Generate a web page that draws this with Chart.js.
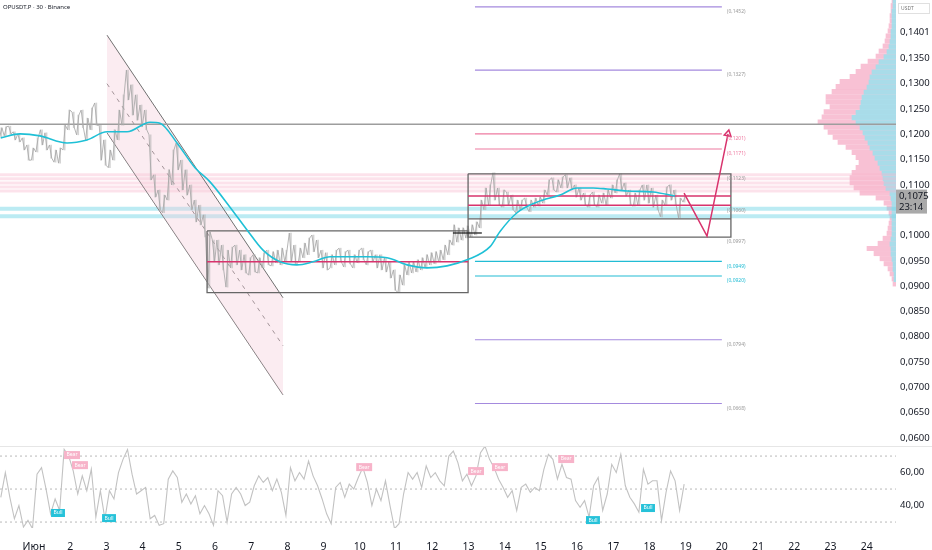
<!DOCTYPE html>
<html>
<head>
<meta charset="utf-8">
<script src="https://cdn.jsdelivr.net/npm/chart.js@4.4.1/dist/chart.umd.min.js"></script>
<style>
html, body { margin: 0; padding: 0; background: #fff; overflow: hidden; }
#wrap { width: 932px; height: 550px; position: relative; }
</style>
</head>
<body>
<div id="wrap"><canvas id="chart"></canvas></div>
<script>
// time axis in days (1 = 1 June), 30m chart resampled to 3h bars
const barStart = 0.0833;
const barStep = 0.125;
const xMin = 0.0608, xMax = 24.81;
const dayTicks = [1,2,3,4,5,6,7,8,9,10,11,12,13,14,15,16,17,18,19,20,21,22,23,24];
const priceTicks = [0.06,0.065,0.07,0.075,0.08,0.085,0.09,0.095,0.10,0.11,0.115,0.12,0.125,0.13,0.135,0.1401];
const rsiTicks = [40, 60];
const rsiLevels = [70, 50, 30];

const priceHigh = [
  0.1213,0.1215,0.1216,0.1205,0.1201,0.1193,0.1179,0.1173,
  0.1193,0.1209,0.1203,0.1179,0.1169,0.1173,0.1218,0.1248,
  0.1244,0.1238,0.1248,0.1232,0.1252,0.1262,0.1218,0.1189,
  0.1169,0.1209,0.1248,0.1278,0.1327,0.1298,0.1278,0.1258,
  0.1248,0.1199,0.1120,0.1090,0.1080,0.1130,0.1169,0.1183,
  0.1149,0.1130,0.1100,0.1070,0.1060,0.1041,0.1007,0.0991,
  0.0991,0.0981,0.0971,0.0977,0.0981,0.0971,0.0962,0.0956,
  0.0962,0.0956,0.0966,0.0971,0.0968,0.0971,0.0975,0.0971,
  0.1005,0.0981,0.0975,0.0985,0.0995,0.1001,0.0991,0.0971,
  0.0966,0.0962,0.0971,0.0975,0.0968,0.0971,0.0962,0.0971,
  0.0975,0.0968,0.0971,0.0962,0.0962,0.0956,0.0948,0.0932,
  0.0922,0.0942,0.0948,0.0948,0.0952,0.0956,0.0962,0.0966,
  0.0968,0.0971,0.0981,0.0991,0.1021,0.1015,0.1015,0.1019,
  0.1021,0.1027,0.1070,0.1094,0.1100,0.1124,0.1094,0.1090,
  0.1086,0.1080,0.1070,0.1070,0.1074,0.1070,0.1074,0.1076,
  0.1090,0.1110,0.1114,0.1110,0.1116,0.1120,0.1114,0.1100,
  0.1094,0.1084,0.1080,0.1086,0.1080,0.1084,0.1090,0.1100,
  0.1110,0.1122,0.1104,0.1090,0.1084,0.1090,0.1100,0.1100,
  0.1094,0.1080,0.1070,0.1096,0.1100,0.1090,0.1074,0.1078
];
const priceLow = [
  0.1195,0.1197,0.1201,0.1189,0.1185,0.1169,0.1149,0.1149,
  0.1165,0.1179,0.1169,0.1153,0.1145,0.1143,0.1169,0.1209,
  0.1213,0.1199,0.1213,0.1189,0.1209,0.1218,0.1149,0.1139,
  0.1134,0.1149,0.1189,0.1218,0.1268,0.1238,0.1228,0.1215,
  0.1209,0.1110,0.1076,0.1051,0.1045,0.1070,0.1100,0.1130,
  0.1090,0.1080,0.1051,0.1027,0.1021,0.0997,0.0896,0.0948,
  0.0942,0.0932,0.0898,0.0936,0.0942,0.0932,0.0926,0.0922,
  0.0928,0.0926,0.0936,0.0942,0.0940,0.0946,0.0942,0.0948,
  0.0948,0.0942,0.0948,0.0956,0.0962,0.0968,0.0956,0.0936,
  0.0932,0.0936,0.0942,0.0948,0.0938,0.0944,0.0936,0.0946,
  0.0952,0.0942,0.0948,0.0936,0.0932,0.0928,0.0916,0.0892,
  0.0887,0.0902,0.0922,0.0926,0.0928,0.0932,0.0936,0.0942,
  0.0944,0.0948,0.0952,0.0962,0.0981,0.0987,0.0991,0.0995,
  0.0997,0.1001,0.1015,0.1051,0.1060,0.1070,0.1060,0.1056,
  0.1060,0.1051,0.1045,0.1051,0.1055,0.1047,0.1056,0.1058,
  0.1064,0.1080,0.1090,0.1086,0.1094,0.1094,0.1090,0.1076,
  0.1070,0.1060,0.1056,0.1060,0.1056,0.1064,0.1060,0.1074,
  0.1084,0.1090,0.1078,0.1060,0.1058,0.1060,0.1070,0.1064,
  0.1056,0.1051,0.1037,0.1060,0.1070,0.1060,0.1035,0.1066
];
const rsiVals = [
  45,60,45,32,40,27,31,26,
  59,63,50,35,44,37,74,70,
  61,47,58,49,62,33,49,32,
  49,44,60,68,74,59,47,49,
  51,32,34,28,29,56,61,57,
  42,47,41,46,35,40,35,28,
  49,46,30,47,51,47,40,42,
  52,58,54,57,49,56,48,34,
  63,55,60,56,67,58,52,44,
  35,29,51,54,45,53,50,57,
  63,54,40,50,43,55,40,26,
  29,47,60,56,60,51,64,57,
  60,55,52,70,73,66,55,59,
  52,58,72,76,68,63,56,51,
  45,49,37,51,53,48,51,49,
  62,71,68,56,65,57,56,43,
  39,43,33,52,57,37,47,65,
  60,71,52,45,41,36,62,53,
  55,55,31,48,61,55,37,53
];

// moving average (cyan)
const maDays = [0.08,0.613,1.166,1.912,2.464,3.017,3.569,4.204,4.481,4.95,5.448,5.862,6.414,6.884,7.326,7.796,8.265,8.707,9.177,9.646,10.199,10.751,11.304,11.856,12.409,12.961,13.597,13.873,14.343,14.895,15.53,16.0,16.442,16.829,17.381,18.099,18.707];
const maVals = [0.1193,0.1201,0.1197,0.1183,0.1189,0.1205,0.1205,0.1224,0.1222,0.1183,0.1134,0.1106,0.1056,0.1011,0.0971,0.0948,0.0942,0.0948,0.0958,0.0958,0.0958,0.0956,0.0942,0.0936,0.0940,0.0952,0.0978,0.1008,0.1045,0.1066,0.1080,0.1094,0.1094,0.1092,0.1088,0.1086,0.1078];

// volume profile (right side)
const vpPrice = [0.146,0.145,0.144,0.143,0.142,0.141,0.140,0.139,0.138,0.137,0.136,0.135,0.134,0.133,0.132,0.131,0.130,0.129,0.128,0.127,0.126,0.125,0.124,0.123,0.122,0.121,0.120,0.119,0.118,0.117,0.116,0.115,0.114,0.113,0.112,0.111,0.110,0.109,0.108,0.107,0.106,0.105,0.104,0.103,0.102,0.101,0.100,0.099,0.098,0.097,0.096,0.095,0.094,0.093,0.092,0.091,0.090];
const vpTotal = [40,50,50,60,60,70,80,100,110,130,170,200,280,350,400,460,560,600,640,700,700,660,720,740,780,720,680,630,580,500,440,400,370,400,440,460,460,420,360,200,120,90,70,60,70,80,90,130,180,290,220,160,120,80,60,40,30];
const vpBuy = [30,30,30,40,40,40,40,50,50,60,70,90,120,170,200,240,260,270,290,320,340,350,360,400,440,400,360,330,310,280,260,230,210,180,160,140,130,120,100,60,50,40,40,40,40,40,40,40,50,60,50,50,40,30,30,20,20];

// drawings
const keyLevel = 0.1220;
const pinkZones = [0.1120, 0.1112, 0.1104, 0.1096, 0.1088];
const cyanZones = [0.1053, 0.1038];
const chanDays = [3.017, 7.878];
const chanUpper = [0.1396, 0.0877];
const chanMid = [0.1300, 0.0782];
const chanLower = [0.1203, 0.0685];
const boxADays = [5.78, 12.99];
const boxAPrices = [0.1009, 0.0887];
const boxBDays = [12.99, 20.25];
const boxBPrices = [0.1122, 0.0997];
const boxBInner = 0.1033;
const redLevelsA = [0.0948];
const redLevelsB = [0.1078, 0.1060];
const shortDays = [12.57, 13.37];
const shortLevel = 0.1005;
const fibDays = [13.18, 20.0];
const fibLevels = [0.1452, 0.1327, 0.1201, 0.1171, 0.0949, 0.0920, 0.0794, 0.0668];
const fibKinds = ['p', 'p', 'r', 'r', 'c', 'c', 'p', 'p'];
const labelDay = 20.14;
const labelPrices = [0.1452, 0.1327, 0.1201, 0.1171, 0.1123, 0.1060, 0.0997, 0.0949, 0.0920, 0.0794, 0.0668];
const labelKinds = ['g', 'g', 'r', 'r', 'g', 'g', 'g', 'c', 'c', 'g', 'g'];
const arrowDays = [18.956, 19.59, 20.17];
const arrowPrices = [0.1084, 0.0999, 0.1201];
const bullDays = [1.663, 3.072, 16.44, 17.96];
const bullRsi = [35.5, 32.4, 31.2, 38.5];
const bearDays = [2.05, 2.27, 10.12, 13.21, 13.87, 15.70];
const bearRsi = [70.6, 64.5, 63.3, 60.9, 63.3, 68.2];
const lastPrice = 0.1075;
const countdown = '23:14';

const FONT = '"Noto Sans", "DejaVu Sans", sans-serif';
const fmt = (v, n) => v.toFixed(n).replace('.', ',');
const barDays = priceHigh.map((_, i) => barStart + i * barStep);

// path through each bar's low and high, in the order the price moved
const pricePath = [];
priceHigh.forEach((hi, i) => {
  const lo = priceLow[i];
  const next = i < priceHigh.length - 1 ? priceHigh[i + 1] + priceLow[i + 1] : hi + lo;
  const up = next >= hi + lo;
  pricePath.push({ x: barDays[i] - barStep / 4, y: up ? lo : hi });
  pricePath.push({ x: barDays[i] + barStep / 4, y: up ? hi : lo });
});

const datasets = [];
function seg(d0, d1, p, color, width, order, extra) {
  datasets.push(Object.assign({
    type: 'line', yAxisID: 'y',
    data: [{ x: d0, y: p }, { x: d1, y: p }],
    borderColor: color, borderWidth: width, pointRadius: 0, order: order
  }, extra || {}));
}
function box(days, prices, color, order) {
  datasets.push({
    type: 'line', yAxisID: 'y',
    data: [
      { x: days[0], y: prices[0] }, { x: days[1], y: prices[0] },
      { x: days[1], y: prices[1] }, { x: days[0], y: prices[1] },
      { x: days[0], y: prices[0] }
    ],
    borderColor: color, borderWidth: 1.3, pointRadius: 0, order: order
  });
}

// volume profile
datasets.push({
  type: 'bar', indexAxis: 'y', xAxisID: 'xv', yAxisID: 'y',
  data: vpPrice.map((p, i) => ({ x: [0, vpTotal[i]], y: p })),
  backgroundColor: 'rgba(246,172,198,0.75)', barThickness: 4.4, order: 100
});
datasets.push({
  type: 'bar', indexAxis: 'y', xAxisID: 'xv', yAxisID: 'y',
  data: vpPrice.map((p, i) => ({ x: [0, vpBuy[i]], y: p })),
  backgroundColor: 'rgba(155,226,237,0.85)', barThickness: 4.4, order: 99
});

// zones
pinkZones.forEach(p => seg(xMin, xMax, p, 'rgba(248,180,202,0.38)', 3, 90));
cyanZones.forEach(p => seg(xMin, xMax, p, 'rgba(120,215,232,0.5)', 4, 90));
seg(xMin, xMax, keyLevel, '#9d9d9d', 1.6, 85);

// channel
const lowerIdx = datasets.length + 1;
datasets.push({
  type: 'line', yAxisID: 'y',
  data: chanDays.map((d, i) => ({ x: d, y: chanUpper[i] })),
  borderColor: '#707070', borderWidth: 1, pointRadius: 0, order: 88,
  fill: lowerIdx, backgroundColor: 'rgba(244,205,217,0.38)'
});
datasets.push({
  type: 'line', yAxisID: 'y',
  data: chanDays.map((d, i) => ({ x: d, y: chanLower[i] })),
  borderColor: '#707070', borderWidth: 1, pointRadius: 0, order: 88
});
datasets.push({
  type: 'line', yAxisID: 'y',
  data: chanDays.map((d, i) => ({ x: d, y: chanMid[i] })),
  borderColor: '#707070', borderWidth: 1, borderDash: [4, 5], pointRadius: 0, order: 88
});

// price: thin high-low bars plus the path between them
datasets.push({
  type: 'bar', xAxisID: 'x', yAxisID: 'y',
  data: barDays.map((d, i) => ({ x: d, y: [priceLow[i], priceHigh[i]] })),
  backgroundColor: 'rgba(175,175,175,0.55)', barThickness: 1, order: 61
});
datasets.push({
  type: 'line', xAxisID: 'x', yAxisID: 'y',
  data: pricePath,
  borderColor: 'rgba(168,168,168,0.85)', borderWidth: 1, pointRadius: 0, order: 60
});

// boxes and levels
box(boxADays, boxAPrices, '#666', 50);
box(boxBDays, boxBPrices, '#666', 50);
seg(boxBDays[0], boxBDays[1], boxBInner, '#666', 1.3, 50);
redLevelsA.forEach(p => seg(boxADays[0], boxADays[1], p, '#d8336d', 1.5, 49));
redLevelsB.forEach(p => seg(boxBDays[0], boxBDays[1], p, '#d8336d', 1.5, 49));
seg(shortDays[0], shortDays[1], shortLevel, '#222', 1.3, 49);
const fibColor = { p: '#a48ade', r: '#ee7aa0', c: '#22bcd4' };
fibLevels.forEach((p, i) => seg(fibDays[0], fibDays[1], p, fibColor[fibKinds[i]], 1.2, 48));

// moving average
datasets.push({
  type: 'line', yAxisID: 'y',
  data: maDays.map((d, i) => ({ x: d, y: maVals[i] })),
  borderColor: '#1fc0d6', borderWidth: 1.6, pointRadius: 0,
  cubicInterpolationMode: 'monotone', order: 40
});

// projection arrow
datasets.push({
  type: 'line', yAxisID: 'y',
  data: arrowDays.map((d, i) => ({ x: d, y: arrowPrices[i] })),
  borderColor: '#d8336d', borderWidth: 1.5,
  pointRadius: [0, 0, 4], pointStyle: 'triangle', pointRotation: 12,
  pointBackgroundColor: 'rgba(0,0,0,0)', pointBorderColor: '#d8336d', pointBorderWidth: 1.5,
  order: 30
});

// RSI
rsiLevels.forEach(v => datasets.push({
  type: 'line', yAxisID: 'yR',
  data: [{ x: xMin, y: v }, { x: xMax, y: v }],
  borderColor: '#b8b8b8', borderWidth: 1, borderDash: [2, 3], pointRadius: 0, order: 20
}));
datasets.push({
  type: 'line', yAxisID: 'yR',
  data: barDays.map((d, i) => ({ x: d, y: rsiVals[i] })),
  borderColor: '#c2c2c2', borderWidth: 1.1, pointRadius: 0, order: 10
});

function tag(ctx, x, y, text, bg) {
  ctx.font = '5px ' + FONT;
  const w = ctx.measureText(text).width + 5;
  ctx.fillStyle = bg;
  ctx.fillRect(x - w / 2, y - 4, w, 8);
  ctx.fillStyle = '#fff';
  ctx.textAlign = 'center';
  ctx.textBaseline = 'middle';
  ctx.fillText(text, x, y);
}

const overlay = {
  id: 'overlay',
  afterDraw(chart) {
    const { ctx } = chart;
    const { x, y, yR } = chart.scales;
    ctx.save();
    // pane separator
    ctx.strokeStyle = '#e6e6e6';
    ctx.lineWidth = 1;
    ctx.beginPath();
    ctx.moveTo(0, yR.top + 0.5);
    ctx.lineTo(chart.width, yR.top + 0.5);
    ctx.stroke();

    // title
    ctx.font = '6px ' + FONT;
    ctx.fillStyle = '#131722';
    ctx.textAlign = 'left';
    ctx.textBaseline = 'middle';
    ctx.fillText('OPUSDT.P · 30 · Binance', 3, 7);

    // level labels
    const labelColor = { g: '#9a9a9a', r: '#ee7aa0', c: '#22bcd4' };
    ctx.font = '5px ' + FONT;
    labelPrices.forEach((p, i) => {
      ctx.fillStyle = labelColor[labelKinds[i]];
      ctx.fillText('(' + fmt(p, 4) + ')', x.getPixelForValue(labelDay), y.getPixelForValue(p) + 5);
    });

    // divergence tags
    bullDays.forEach((d, i) => tag(ctx, x.getPixelForValue(d), yR.getPixelForValue(bullRsi[i]), 'Bull', '#26c2d9'));
    bearDays.forEach((d, i) => tag(ctx, x.getPixelForValue(d), yR.getPixelForValue(bearRsi[i]), 'Bear', '#f7b3c9'));

    // currency box
    ctx.strokeStyle = '#e0e0e0';
    ctx.strokeRect(898.5, 3.5, 31, 10);
    ctx.font = '5px ' + FONT;
    ctx.fillStyle = '#777';
    ctx.textAlign = 'left';
    ctx.fillText('USDT', 901, 8.5);

    // last price box
    const py = y.getPixelForValue(lastPrice);
    ctx.fillStyle = '#a9a9a9';
    ctx.fillRect(y.left, py - 8, 31, 24);
    ctx.fillStyle = '#131722';
    ctx.font = '9.5px ' + FONT;
    ctx.fillText(fmt(lastPrice, 4), y.left + 3, py - 1);
    ctx.fillText(countdown, y.left + 3, py + 10);
    ctx.restore();
  }
};

const noPad = s => { s.paddingTop = 0; s.paddingBottom = 0; };

new Chart(document.getElementById('chart'), {
  type: 'line',
  data: { datasets: datasets },
  options: {
    responsive: true,
    maintainAspectRatio: false,
    animation: false,
    events: [],
    layout: { padding: 0, autoPadding: false },
    plugins: { legend: { display: false }, tooltip: { enabled: false } },
    scales: {
      x: {
        type: 'linear', min: xMin, max: xMax, offset: false,
        grid: { display: false }, border: { display: false },
        afterBuildTicks: s => { s.ticks = dayTicks.map(v => ({ value: v })); },
        afterFit: s => { s.height = 22; s.paddingLeft = 0; s.paddingRight = 0; },
        ticks: {
          autoSkip: false, maxRotation: 0, padding: 5, color: '#131722',
          font: { family: FONT, size: 10.5 },
          callback: v => (v === 1 ? 'Июн' : String(v))
        }
      },
      xv: {
        type: 'linear', axis: 'x', display: false, reverse: true, min: 0, max: 8960, offset: false
      },
      y: {
        type: 'linear', position: 'right', stack: 'pane', stackWeight: 446,
        min: 0.0584, max: 0.14655, offset: false,
        grid: { display: false, drawTicks: false }, border: { display: false },
        afterBuildTicks: s => { s.ticks = priceTicks.map(v => ({ value: v })); },
        afterFit: s => { s.width = 36; noPad(s); },
        ticks: {
          padding: 4, color: '#131722', font: { family: FONT, size: 9.5 },
          callback: v => fmt(v, 4)
        }
      },
      yR: {
        type: 'linear', position: 'right', stack: 'pane', stackWeight: 82,
        min: 26.4, max: 76.1, offset: false,
        grid: { display: false, drawTicks: false }, border: { display: false },
        afterBuildTicks: s => { s.ticks = rsiTicks.map(v => ({ value: v })); },
        afterFit: s => { s.width = 36; noPad(s); },
        ticks: {
          padding: 4, color: '#131722', font: { family: FONT, size: 9.5 },
          callback: v => fmt(v, 2)
        }
      }
    }
  },
  plugins: [overlay]
});
</script>
</body>
</html>
